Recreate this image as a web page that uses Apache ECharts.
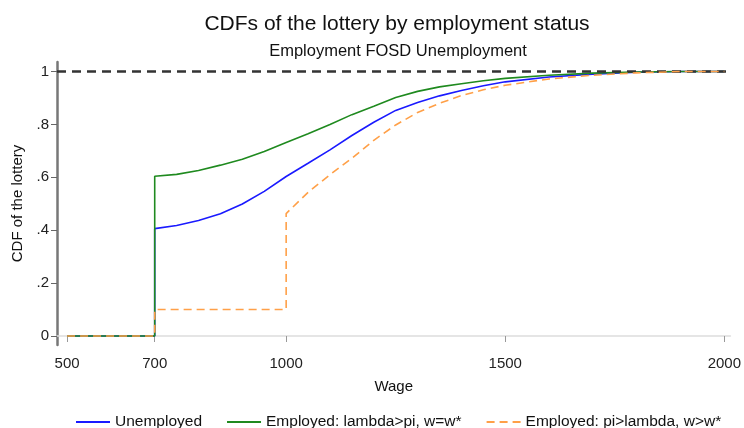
<!DOCTYPE html>
<html><head><meta charset="utf-8">
<script src="https://cdn.jsdelivr.net/npm/echarts@6/dist/echarts.min.js"></script>
<style>html,body{margin:0;padding:0;background:#fff}#c{width:744px;height:428px}</style>
</head><body><div id="c"></div>
<script>
const wageU = [500,700,700,750,800,850,900,950,1000,1050,1100,1150,1200,1250,1300,1350,1400,1450,1500,1600,1700,1800,1900,2000];
const cdfU  = [0,0,0.406,0.418,0.437,0.462,0.499,0.547,0.603,0.653,0.704,0.758,0.808,0.853,0.883,0.908,0.928,0.946,0.961,0.979,0.990,0.997,1,1];
const wageE1 = [500,700,700,750,800,850,900,950,1000,1050,1100,1150,1200,1250,1300,1350,1400,1450,1500,1600,1700,1800,1900,2000];
const cdfE1  = [0,0,0.604,0.611,0.626,0.646,0.668,0.698,0.732,0.765,0.800,0.837,0.869,0.902,0.925,0.942,0.954,0.965,0.974,0.986,0.994,0.998,1,1];
const wageE2 = [500,700,700,1000,1000,1050,1100,1150,1200,1250,1300,1350,1400,1450,1500,1600,1700,1800,1900,2000];
const cdfE2  = [0,0,0.1,0.1,0.463,0.543,0.610,0.672,0.740,0.798,0.845,0.880,0.909,0.931,0.948,0.972,0.986,0.995,1,1];
const xTicks = [500,700,1000,1500,2000];
const yTicks = [0,0.2,0.4,0.6,0.8,1];
const seriesNames = ['Unemployed','Employed: lambda>pi, w=w*','Employed: pi>lambda, w>w*'];

const zip = (a,b)=>a.map((v,i)=>[v,b[i]]);
const fmtY = v => { if (v===0) return '0'; if (v===1) return '1'; return String(+v.toFixed(1)).replace(/^0/,''); };
const font = 'Liberation Sans, Arial, sans-serif';
const chart = echarts.init(document.getElementById('c'));
chart.setOption({
  animation:false,
  backgroundColor:'#fff',
  title:[
    {text:'CDFs of the lottery by employment status',left:392,top:9,textAlign:'center',
     textStyle:{fontFamily:font,fontSize:21,fontWeight:'normal',color:'#111'}},
    {text:'Employment FOSD Unemployment',left:393,top:38,textAlign:'center',
     textStyle:{fontFamily:font,fontSize:16.5,fontWeight:'normal',color:'#111'}}
  ],
  grid:{left:57,right:7,top:62,bottom:83},
  legend:{top:409,left:70,itemWidth:34,itemHeight:12,itemGap:24,
    itemStyle:{opacity:0},
    textStyle:{fontFamily:font,fontSize:15.5,color:'#111'},
    data:seriesNames},
  xAxis:{type:'value',min:477,max:2014,
    name:'Wage',nameLocation:'middle',nameGap:34,
    nameTextStyle:{fontFamily:font,fontSize:15,color:'#111'},
    axisLine:{show:true,lineStyle:{color:'#ddd',width:1.5}},
    axisTick:{show:true,customValues:xTicks,length:6,lineStyle:{color:'#999'}},
    axisLabel:{customValues:xTicks,formatter:v=>String(v),fontFamily:font,fontSize:15,color:'#222',margin:11},
    splitLine:{show:false}},
  yAxis:{type:'value',min:-0.034,max:1.036,
    name:'CDF of the lottery',nameLocation:'middle',nameGap:32,
    nameTextStyle:{fontFamily:font,fontSize:15,color:'#111'},
    axisLine:{show:true,lineStyle:{color:'#777',width:2.5}},
    axisTick:{show:true,customValues:yTicks,length:6,lineStyle:{color:'#666'}},
    axisLabel:{customValues:yTicks,formatter:fmtY,fontFamily:font,fontSize:15,color:'#222',margin:8},
    splitLine:{show:false}},
  series:[
    {name:seriesNames[0],type:'line',data:zip(wageU,cdfU),symbol:'none',
     lineStyle:{color:'#1a1aff',width:1.6},itemStyle:{color:'#1a1aff'},z:3,
     markLine:{silent:true,symbol:'none',label:{show:false},
       lineStyle:{color:'#333',type:[9,6],width:2.5},data:[{yAxis:1}]}},
    {name:seriesNames[1],type:'line',data:zip(wageE1,cdfE1),symbol:'none',
     lineStyle:{color:'#1f8a1f',width:1.6},itemStyle:{color:'#1f8a1f'},z:4},
    {name:seriesNames[2],type:'line',data:zip(wageE2,cdfE2),symbol:'none',
     lineStyle:{color:'#ffa048',width:1.6,type:[8,5]},itemStyle:{color:'#ffa048'},z:5}
  ]
});
</script></body></html>
